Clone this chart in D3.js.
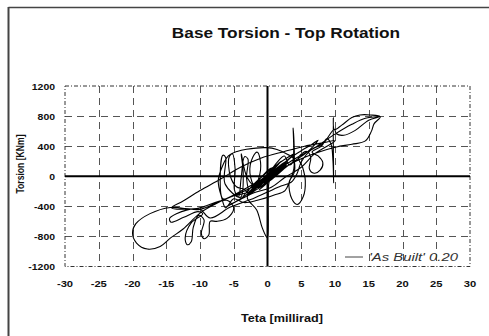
<!DOCTYPE html>
<html>
<head>
<meta charset="utf-8">
<script src="https://cdn.jsdelivr.net/npm/d3@7"></script>
<style>
  html, body { margin: 0; padding: 0; background: #fff; }
  svg { display: block; font-family: "Liberation Sans", Arial, sans-serif; }
</style>
</head>
<body>
<svg id="chart" width="489" height="336"></svg>
<script>
// Axis ticks
const xTicks = [-30, -25, -20, -15, -10, -5, 0, 5, 10, 15, 20, 25, 30];
const yTicks = [-1200, -800, -400, 0, 400, 800, 1200];

// Rotation at roof level [millirad] and base torsion [KNm], in time order
const teta = [
  0, 0.6, -0.4, 1.0, -0.8, 1.4, -1.2, 0.3, 1.9, -1.6, -0.4, 2.3, 0.7, -2.1, -1.0, 1.5, 2.6, 1.0, -2.4, -1.7, -0.6,
  -3.0, -1.6, -0.8, -0.2, 0.0, 0.1, 0.3,
  1.2, 3.0, 2.1, -0.8, -2.9, -3.5,
  -4.6, -5.5, -5.7, -5.2, -4.8, -4.9, -4.3, -3.9, -3.4, -2.9, -3.1, -2.5, -1.6, -1.0, -1.5, -2.2, -2.6, -1.8, -0.3,
  -2.5, -5.0, -6.6, -7.0, -6.6, -6.2, -6.3, -4.0, -3.6, -3.9, -3.0, -1.5,
  1.2, 2.5, 3.2, 3.7, 3.8, 3.9, 3.3, 2.6, 1.0, -1.5, -3.5, -5.0, -6.2, -6.8, -7.3, -6.6, -5.8, -4.5, -3.1, -0.1, 1.4, 3.0, 3.8, 4.0,
  3.2, 3.6, 4.4, 5.3, 5.6, 5.2, 4.6, 5.8, 6.4, 6.2, 6.9, 7.8, 8.2, 7.5, 6.6, 8.0, 8.8, 9.4, 9.7, 9.8, 9.75, 9.9,
  11.0, 12.5, 13.7, 15.2, 16.7, 15.8, 15.4, 14.5, 12.5, 10.2, 7.2, 4.2, 1.5, -1.5, -4.5, -7.0, -10.0,
  -14.4, -17.4, -19.5, -20.0, -19.4, -17.8, -15.9, -14.4, -12.5, -10.0, -7.5, -5.0,
  -2.0, 1.0, 4.0, 7.0, 10.0, 12.5, 14.5, 16.5, 15.0, 13.0, 11.3, 10.2, 9.9,
  8.2, 6.6, 5.0, 4.4, 3.5, 2.0, 0.0, -2.5, -5.5, -8.5, -10.0,
  -12.0, -14.5, -14.3, -12.4, -10.3, -9.6,
  -11.3, -12.2, -11.9, -11.3, -11.0, -10.2, -9.4, -9.8, -9.4, -8.7, -8.5, -7.5, -6.0, -5.0, -6.0,
  -10.5, -14.2, -12.5, -10.0, -7.0, -4.0, -1.0, 2.5, 5.5, 8.0, 10.0,
  7.0, 5.0, 2.5, 0.5, -2.0, -4.5, -6.0, -4.0,
  -1.5, 1.0, 3.5, 5.0, 6.5, 7.5, 6.0, 3.0, 0.5, -2.0, -3.8, -2.5, -0.5, 1.8, 4.0, 2.5, 0.0, -1.8, -3.0, -1.5,
  0.8, 2.0, 1.0, -0.8, -2.2, -1.0, 0.6, 1.5, -0.2, -1.2, 0.2, 1.0,
  2.5, 1.5, -0.5, -2.0, -1.0, 0.5, 1.8, 2.8, 1.5, 0.0, -1.2, -0.6, 0.4, -0.3, 0.2, 0.0
];
const torsion = [
  0, 50, -40, 90, -70, 70, -100, 0, 130, -130, -30, 160, 60, -160, -80, 100, 190, 80, -200, -120, -80,
  -280, -450, -680, -800, -820, -300, -60,
  30, 200, 130, -60, -220, -170,
  -140, 0, 250, 300, 100, -180, -280, -20, 260, 230, -30, -220, -100, 140, 320, 250, 40, -140, -40,
  -200, -260, -300, 0, 280, 250, -100, -280, 50, 300, -20, -150,
  160, 270, 150, 180, 640, 100, -60, -190, -250, -320, -350, -300, -420, -280, -60, 150, 270, 330, 360, 380, 355, 290, 240, 60,
  -80, -300, -375, -270, -60, 120, 250, 330, 250, 100, 40, 80, 180, 270, 320, 400, 500, 430, 200, -90, 780, 620,
  680, 780, 815, 815, 790, 700, 600, 470, 425, 390, 310, 200, 60, -110, -240, -330, -440,
  -415, -497, -631, -755, -888, -968, -933, -822, -702, -490, -360, -250,
  -100, 60, 230, 380, 560, 690, 770, 788, 745, 610, 545, 565, 625,
  430, 360, 190, 40, -80, -130, -210, -310, -410, -555, -440,
  -450, -560, -610, -545, -470, -500,
  -620, -820, -910, -870, -680, -520, -580, -760, -830, -780, -600, -600, -560, -430, -320,
  -430, -420, -330, -190, -40, 120, 240, 330, 400, 440, 470,
  300, 120, -20, -150, -220, -330, -400, -300,
  -140, 20, 250, 340, 420, 480, 330, 140, -50, -200, -300, -150, 20, 180, 300, 180, -30, -170, -250, -90,
  80, 200, 120, -40, -130, -20, 110, 60, -100, -180, -60, 40,
  120, 60, -80, -180, -100, 30, 90, 150, 40, -60, -150, -60, 20, -30, 10, 0
];

const legendLabel = "'As Built' 0.20";
const title = "Base Torsion - Top Rotation";
const xLabel = "Teta [millirad]";
const yLabel = "Torsion [KNm]";

const svg = d3.select("#chart");
const plot = { left: 65, right: 470, top: 86, bottom: 266.5 };

const x = d3.scaleLinear().domain([-30, 30]).range([plot.left, plot.right]);
const y = d3.scaleLinear().domain([-1200, 1200]).range([plot.bottom, plot.top]);

// Text helper: glyphs are drawn slightly widened
function label(g, tx, ty, str, opts) {
  const o = Object.assign({ size: 10, sx: 1.15, sy: 1, anchor: "middle", weight: "bold", style: "normal", fill: "#111", rot: 0 }, opts);
  return g.append("text")
    .attr("transform", `translate(${tx},${ty}) rotate(${o.rot}) scale(${o.sx},${o.sy})`)
    .attr("text-anchor", o.anchor).attr("font-size", o.size)
    .attr("font-weight", o.weight).attr("font-style", o.style)
    .attr("fill", o.fill).text(str);
}

// Outer frame (top and left edges)
svg.append("line").attr("x1", 8.5).attr("x2", 489).attr("y1", 7.5).attr("y2", 7.5)
  .attr("stroke", "#444").attr("stroke-width", 1.5);
svg.append("line").attr("x1", 8.5).attr("x2", 8.5).attr("y1", 7).attr("y2", 336)
  .attr("stroke", "#444").attr("stroke-width", 2);

// Title
label(svg, 286, 38, title, { size: 15.4, sx: 1.12 });

// Dashed grid
const grid = svg.append("g").attr("stroke", "#555").attr("stroke-width", 1)
  .attr("stroke-dasharray", "7,5").attr("fill", "none");
grid.selectAll(".vg").data(xTicks.filter(d => d !== 0 && Math.abs(d) !== 30)).join("line")
  .attr("x1", d => Math.round(x(d)) + 0.5).attr("x2", d => Math.round(x(d)) + 0.5)
  .attr("y1", plot.top).attr("y2", plot.bottom);
grid.selectAll(".hg").data(yTicks.filter(d => d !== 0 && Math.abs(d) !== 1200)).join("line")
  .attr("y1", d => Math.round(y(d)) + 0.5).attr("y2", d => Math.round(y(d)) + 0.5)
  .attr("x1", plot.left).attr("x2", plot.right);

// Plot border (dash-dot)
svg.append("rect").attr("x", plot.left).attr("y", plot.top)
  .attr("width", plot.right - plot.left).attr("height", plot.bottom - plot.top)
  .attr("fill", "none").attr("stroke", "#333").attr("stroke-width", 1)
  .attr("stroke-dasharray", "4,2,1,2");

// Zero axes
svg.append("line").attr("x1", plot.left).attr("x2", plot.right)
  .attr("y1", y(0)).attr("y2", y(0)).attr("stroke", "#000").attr("stroke-width", 2);
svg.append("line").attr("x1", x(0)).attr("x2", x(0))
  .attr("y1", plot.top).attr("y2", plot.bottom).attr("stroke", "#000").attr("stroke-width", 2);

// Tick labels
const xtl = svg.append("g");
xTicks.forEach(d => label(xtl, x(d), 287, d, { size: 9.5, sx: 1.18 }));
const ytl = svg.append("g");
yTicks.forEach(d => label(ytl, 55, y(d) + 3.5, d, { size: 9.5, sx: 1.1, anchor: "end" }));

// Axis titles
label(svg, 282, 322, xLabel, { size: 10.8, sx: 1.17 });
label(svg, 24, 164, yLabel, { size: 8.6, sx: 1, sy: 1.22, rot: -90 });

// Hysteresis curve
const pts = teta.map((t, i) => [t, torsion[i]]);
const line = d3.line().x(d => x(d[0])).y(d => y(d[1])).curve(d3.curveCatmullRom.alpha(0.5));
svg.append("path").datum(pts).attr("d", line)
  .attr("fill", "none").attr("stroke", "#000").attr("stroke-width", 1.1)
  .attr("stroke-linejoin", "round");

// Legend
svg.append("line").attr("x1", 345).attr("x2", 363).attr("y1", 257).attr("y2", 257)
  .attr("stroke", "#444").attr("stroke-width", 1);
label(svg, 369, 261, legendLabel, { size: 11, sx: 1.35, anchor: "start", weight: "normal", style: "italic", fill: "#333" });
</script>
</body>
</html>
